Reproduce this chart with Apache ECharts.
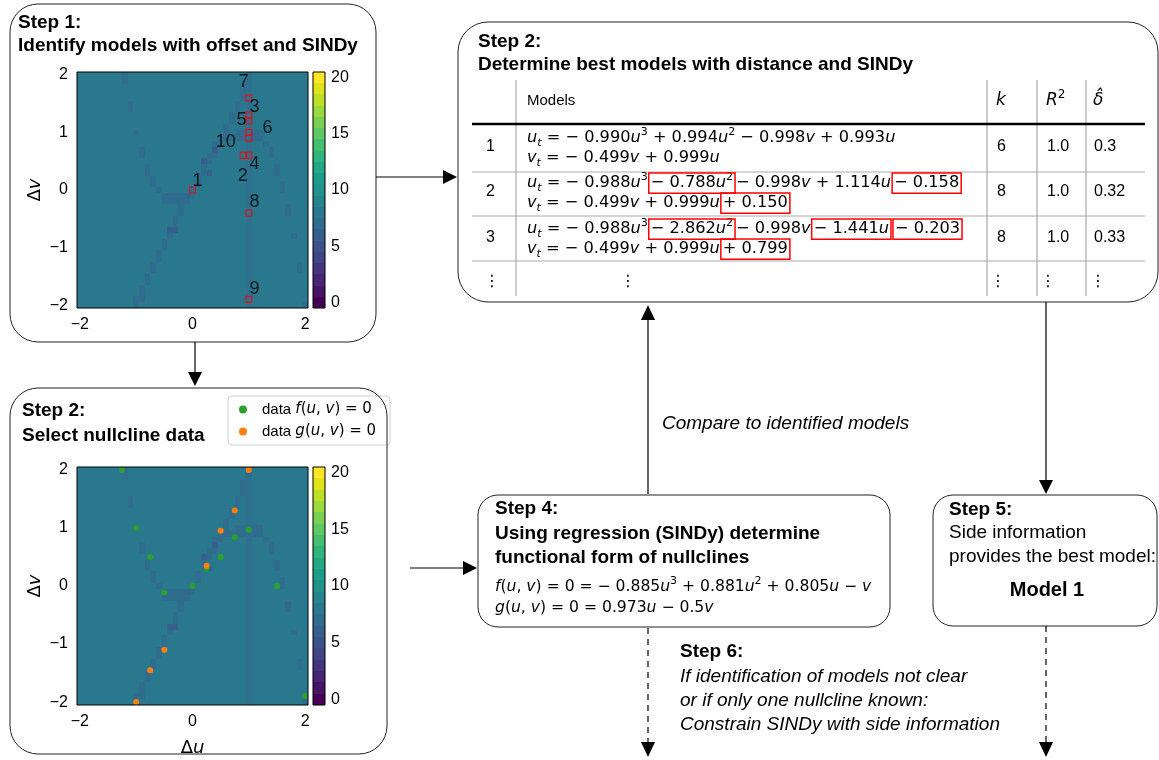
<!DOCTYPE html>
<html>
<head>
<meta charset="utf-8">
<title>SINDy nullcline workflow</title>
<script src="https://cdn.jsdelivr.net/npm/echarts@6/dist/echarts.min.js"></script>
<style>html,body{margin:0;padding:0;background:#fff;}</style>
</head>
<body>
<div id="main" style="width:1159px;height:760px;"></div>
<script>
// ---- data ----
var VIRIDIS = ['#440154','#471365','#482475','#463480','#414487','#3b528b','#355f8d','#2f6c8e','#2a788e','#25848e',
  '#21918c','#1e9c89','#22a884','#2fb47c','#44bf70','#5ec962','#7ad151','#9bd93c','#bddf26','#dfe318','#fde725'];
var COLORBAR_LEVELS = [0,1,2,3,4,5,6,7,8,9,10,11,12,13,14,15,16,17,18,19,20];
var COLORBAR_TICKS = [0,5,10,15,20];
var X_TICKS = [-2,0,2];
var Y_TICKS = [-2,-1,0,1,2];

var BG_LEVEL = 8;        // plain offset map
var STRIPE_U = 1.0;      // faint vertical band
var STRIPE_LEVEL = 7.3;

// [u, v, level]
var fLeftCells = [[-1.2,2.0,7],[-1.2,1.9,7],[-1.1,1.5,7],[-1.1,1.4,7],[-1.0,1.0,7],[-0.9,0.7,7],[-0.9,0.6,7],
  [-0.8,0.4,7],[-0.8,0.3,7],[-0.7,0.2,7],[-0.7,0.1,7],[-0.6,0.0,7],
  [-0.5,-0.1,7],[-0.4,-0.1,7],[-0.3,-0.1,7],[-0.2,-0.1,7],[-0.1,-0.1,6.6],[0.0,-0.1,7],
  [-0.5,-0.2,7],[-0.4,-0.2,7],[-0.3,-0.2,7],[-0.2,-0.2,7]];
var fRightCells = [[0.7,0.9,7],[0.8,0.9,7],[0.9,0.9,7],[1.1,0.9,7],[1.2,0.9,7],[0.8,1.0,7],[0.9,1.0,7],[1.1,1.0,7],
  [1.2,1.0,7],[1.3,0.8,7],[1.4,0.7,7],[1.4,0.6,7],[1.5,0.4,7],[1.5,0.3,7],[1.6,0.1,7],[1.6,0.0,7],
  [1.7,-0.3,7],[1.7,-0.4,7],[1.8,-0.8,7],[1.9,-1.3,7],[1.9,-1.4,7],[2.0,-2.0,7]];
var gCells = [[-1.0,-2.0,7],[-1.0,-1.9,7],[-0.9,-1.9,7],[-0.9,-1.8,7],[-0.9,-1.7,7],[-0.8,-1.6,7],[-0.8,-1.5,7],
  [-0.7,-1.4,7],[-0.7,-1.3,7],[-0.6,-1.2,7],[-0.6,-1.1,7],[-0.5,-1.0,7],[-0.5,-0.9,7],[-0.4,-0.8,7],
  [-0.4,-0.7,6],[-0.3,-0.7,6],[-0.3,-0.6,7],[-0.3,-0.5,7],[-0.2,-0.4,7],[-0.2,-0.3,7],[-0.1,-0.2,7],
  [0.0,0.0,7],[0.1,0.1,7],[0.1,0.2,7],[0.2,0.3,7],[0.3,0.3,6],[0.2,0.4,7],[0.2,0.5,6],[0.3,0.5,7],
  [0.3,0.6,7],[0.4,0.6,7],[0.4,0.7,6],[0.4,0.8,7],[0.5,0.8,7],[0.5,0.9,7],[0.6,0.9,7],[0.6,1.0,7],
  [0.6,1.1,7],[0.7,1.2,7],[0.7,1.3,7],[0.8,1.4,7],[0.8,1.5,7],[0.9,1.6,7],[0.9,1.7,7],[0.9,1.8,7],
  [1.0,1.9,7],[1.0,2.0,7]];

var modelSquares = [[0,0],[0.9,0.6],[1.0,0.6],[1.0,1.6],[1.0,1.3],[1.0,1.2],[1.0,1.0],[1.0,0.9],[1.0,-0.4],[1.0,-1.9]];
var modelLabels = [[0.09,0.16,'1'],[0.89,0.24,'2'],[1.10,1.45,'3'],[1.10,0.45,'4'],[0.87,1.22,'5'],
  [1.33,1.07,'6'],[0.91,1.88,'7'],[1.10,-0.21,'8'],[1.10,-1.72,'9'],[0.59,0.83,'10']];

var fData = [[-1.25,2.0],[-1.0,1.0],[-0.75,0.5],[-0.5,-0.11],[0,0],[0.25,0.3],[0.5,0.5],[0.75,0.84],[1.0,0.97],[1.5,0.0],[2.0,-1.9]];
var gData = [[-1.0,-2.0],[-0.75,-1.45],[-0.5,-1.1],[0.25,0.35],[0.5,0.95],[0.75,1.3],[1.0,2.0]];

var tableRowIds = ['1','2','3'];
var tableK = ['6','8','8'];
var tableR2 = ['1.0','1.0','1.0'];
var tableDelta = ['0.3','0.32','0.33'];
var tableEqs = [
  ['u_t = − 0.990u^3 + 0.994u^2 − 0.998v + 0.993u', 'v_t = − 0.499v + 0.999u'],
  ['u_t = − 0.988u^3[− 0.788u^2]− 0.998v + 1.114u[− 0.158]', 'v_t = − 0.499v + 0.999u[+ 0.150]'],
  ['u_t = − 0.988u^3[− 2.862u^2]− 0.998v[− 1.441u][− 0.203]', 'v_t = − 0.499v + 0.999u[+ 0.799]']
];
var step4Eqs = ['f(u, v) = 0 = − 0.885u^3 + 0.881u^2 + 0.805u − v', 'g(u, v) = 0 = 0.973u − 0.5v'];

// ---- build the offset map ----
var cellMap = {};
for (var i = -20; i <= 20; i++) {
  for (var j = -20; j <= 20; j++) cellMap[i + ',' + j] = BG_LEVEL;
}
for (var j = -20; j <= 20; j++) cellMap[Math.round(STRIPE_U * 10) + ',' + j] = STRIPE_LEVEL;
fLeftCells.concat(fRightCells, gCells).forEach(function (c) {
  cellMap[Math.round(c[0] * 10) + ',' + Math.round(c[1] * 10)] = c[2];
});
var mapData = [];
Object.keys(cellMap).forEach(function (k) {
  var p = k.split(',');
  mapData.push([p[0] / 10, p[1] / 10, cellMap[k]]);
});
var barData = COLORBAR_LEVELS.map(function (l) { return [0.5, l, l]; });

var SANS = '"Liberation Sans", Arial, sans-serif';
var MATH = '"DejaVu Sans", sans-serif';
var P1 = {left: 77, top: 72, width: 231, height: 236};
var P2 = {left: 77, top: 467, width: 231, height: 238};
var CB1 = {left: 313, top: 72, width: 12, height: 236};
var CB2 = {left: 313, top: 467, width: 12, height: 238};

function minusFmt(v) { return (v < 0 ? '−' : '') + Math.abs(v); }

function cellItem(params, api) {
  var u = api.value(0), v = api.value(1);
  var a = api.coord([u - 0.05, v + 0.05]);
  var b = api.coord([u + 0.05, v - 0.05]);
  var x0 = Math.round(a[0]), y0 = Math.round(a[1]), x1 = Math.round(b[0]), y1 = Math.round(b[1]);
  return {type: 'rect', shape: {x: x0, y: y0, width: x1 - x0, height: y1 - y0},
    style: {fill: api.visual('color')}};
}
function barItem(params, api) {
  var l = api.value(1);
  var a = api.coord([0, l + 0.5]);
  var b = api.coord([1, l - 0.5]);
  var y0 = Math.round(a[1]), y1 = Math.round(b[1]);
  return {type: 'rect', shape: {x: a[0], y: y0, width: b[0] - a[0], height: y1 - y0},
    style: {fill: api.visual('color')}};
}

function mapAxes(gi, showXName) {
  var lab = {color: '#000', fontSize: 16, fontFamily: SANS, formatter: minusFmt};
  var tick = {show: true, length: 4, lineStyle: {color: '#000'}};
  var nameStyle = {fontSize: 18, color: '#000', rich: {
    n: {fontSize: 18, fontFamily: MATH}, i: {fontSize: 18, fontFamily: MATH, fontStyle: 'italic'}}};
  var x = {gridIndex: gi, type: 'value', min: -2.05, max: 2.05, splitLine: {show: false}, axisLine: {show: false},
    axisTick: Object.assign({customValues: X_TICKS}, tick),
    axisLabel: Object.assign({customValues: X_TICKS, margin: 9}, lab)};
  if (showXName) {
    x.name = '{n|Δ}{i|u}'; x.nameLocation = 'middle'; x.nameGap = 34; x.nameTextStyle = nameStyle;
  }
  var y = {gridIndex: gi, type: 'value', min: -2.05, max: 2.05, splitLine: {show: false}, axisLine: {show: false},
    axisTick: Object.assign({customValues: Y_TICKS}, tick),
    axisLabel: Object.assign({customValues: Y_TICKS, margin: 9}, lab),
    name: '{n|Δ}{i|v}', nameLocation: 'middle', nameGap: 33, nameRotate: 90, nameTextStyle: nameStyle};
  return [x, y];
}
function barAxes(gi) {
  return [
    {gridIndex: gi, type: 'value', min: 0, max: 1, show: false},
    {gridIndex: gi, type: 'value', position: 'right', min: -0.5, max: 20.5, splitLine: {show: false},
      axisLine: {show: false}, axisTick: {show: true, customValues: COLORBAR_TICKS, length: 4, lineStyle: {color: '#000'}},
      axisLabel: {customValues: COLORBAR_TICKS, margin: 6, color: '#000', fontSize: 16, fontFamily: SANS}}
  ];
}
var a1 = mapAxes(0, false), b1 = barAxes(1), a2 = mapAxes(2, true), b2 = barAxes(3);

// ---- graphic helpers ----
var mctx = document.createElement('canvas').getContext('2d');
function text(x, y, str, font, align) {
  return {type: 'text', x: x, y: y, z: 50, style: {text: str, font: font, fill: '#000',
    align: align || 'left', verticalAlign: 'middle', textAlign: align || 'left', textVerticalAlign: 'middle'}};
}
function mathFont(size, it) { return (it ? 'italic ' : '') + size + 'px ' + MATH; }
// tiny markup: ^x superscript, _x subscript, letters italic, [..] red box
function eq(str, x0, y, size) {
  var segs = [], box = 0, nb = 0;
  for (var i = 0; i < str.length; i++) {
    var c = str[i], kind = 'n';
    if (c === '[') { box = ++nb; segs.push({gap: true}); continue; }
    if (c === ']') { box = 0; segs.push({gap: true}); continue; }
    if (c === '^') { c = str[++i]; kind = 'sup'; }
    else if (c === '_') { c = str[++i]; kind = 'sub'; }
    var it = /[a-zA-Z]/.test(c);
    var last = segs[segs.length - 1];
    if (last && !last.gap && last.kind === kind && last.it === it && last.box === box) last.t += c;
    else segs.push({t: c, kind: kind, it: it, box: box});
  }
  var els = [], boxes = {}, x = x0;
  segs.forEach(function (s) {
    if (s.gap) { x += 3; return; }
    var sz = s.kind === 'n' ? size : Math.round(size * 0.7);
    var font = mathFont(sz, s.it);
    mctx.font = font;
    var w = mctx.measureText(s.t).width;
    var dy = s.kind === 'sup' ? -size * 0.36 : (s.kind === 'sub' ? size * 0.3 : 0);
    els.push(text(x, y + dy, s.t, font));
    if (s.box) { var b = boxes[s.box] || (boxes[s.box] = {x0: x, x1: x}); b.x1 = x + w; }
    x += w;
  });
  Object.keys(boxes).forEach(function (k) {
    var b = boxes[k];
    els.push({type: 'rect', z: 51, shape: {x: b.x0 - 2, y: y - size * 0.62, width: b.x1 - b.x0 + 4, height: size * 1.26},
      style: {fill: 'none', stroke: '#ff0000', lineWidth: 1.5}});
  });
  return els;
}
function rbox(x, y, w, h, r) {
  return {type: 'rect', z: 40, shape: {x: x, y: y, width: w, height: h, r: r},
    style: {fill: 'none', stroke: '#222', lineWidth: 1}};
}
function line(x1, y1, x2, y2, w, color, dash) {
  return {type: 'line', z: 40, shape: {x1: x1, y1: y1, x2: x2, y2: y2},
    style: {stroke: color || '#000', lineWidth: w || 1.2, lineDash: dash || null}};
}
function head(pts) { return {type: 'polygon', z: 41, shape: {points: pts}, style: {fill: '#000'}}; }
function frame(p) {
  return {type: 'rect', z: 60, shape: {x: p.left, y: p.top, width: p.width, height: p.height},
    style: {fill: 'none', stroke: '#000', lineWidth: 1}};
}

var BOLD = 'bold 19px ' + SANS;
var REG = '19px ' + SANS;
var ITAL = 'italic 19px ' + SANS;
var G = [];
// boxes
G.push(rbox(10, 4, 366, 338, 28), rbox(458, 22, 700, 280, 30), rbox(10, 388, 377, 366, 28),
  rbox(478, 495, 412, 132, 20), rbox(933, 495, 224, 131, 20));
G.push(frame(P1), frame(P2), frame(CB1), frame(CB2));
// titles
G.push(text(18, 23, 'Step 1:', BOLD), text(18, 46, 'Identify models with offset and SINDy', BOLD));
G.push(text(478, 42, 'Step 2:', BOLD), text(478, 65, 'Determine best models with distance and SINDy', BOLD));
G.push(text(22, 411, 'Step 2:', BOLD), text(22, 436, 'Select nullcline data', BOLD));
G.push(text(495, 509, 'Step 4:', BOLD), text(495, 534, 'Using regression (SINDy) determine', BOLD),
  text(495, 558, 'functional form of nullclines', BOLD));
G.push(text(949, 510, 'Step 5:', BOLD), text(949, 533, 'Side information', REG),
  text(949, 557, 'provides the best model:', REG), text(1047, 590, 'Model 1', 'bold 20px ' + SANS, 'center'));
G.push(text(680, 652, 'Step 6:', BOLD), text(680, 677, 'If identification of models not clear', ITAL),
  text(680, 701, 'or if only one nullcline known:', ITAL), text(680, 725, 'Constrain SINDy with side information', ITAL));
G.push(text(662, 424, 'Compare to identified models', ITAL));
step4Eqs.forEach(function (s, k) { G = G.concat(eq(s, 495, 587 + 21 * k, 15.6)); });

// table
var TL = 472, TR = 1145;
[516, 987, 1037, 1086].forEach(function (x) { G.push(line(x, 80, x, 296, 1, '#999')); });
G.push(line(TL, 124, TR, 124, 2.5, '#000'));
[172, 216, 261].forEach(function (y) { G.push(line(TL, y, TR, y, 1, '#aaa')); });
G.push(text(527, 101, 'Models', '15px ' + SANS));
G = G.concat(eq('k', 996, 101, 17), eq('R^2', 1046, 101, 17));
G.push(text(1093, 101, 'δ̂', 'italic 17px ' + MATH));
var rowY = [138, 183, 229];
tableEqs.forEach(function (pair, r) {
  var y0 = rowY[r], yc = y0 + 9;
  G = G.concat(eq(pair[0], 527, y0, 16.2), eq(pair[1], 527, y0 + 20, 16.2));
  G.push(text(486, yc, tableRowIds[r], '16px ' + SANS), text(997, yc, tableK[r], '16px ' + SANS),
    text(1047, yc, tableR2[r], '16px ' + SANS), text(1094, yc, tableDelta[r], '16px ' + SANS));
});
[492, 628, 998, 1048, 1098].forEach(function (x) { G.push(text(x, 282, '⋮', '16px ' + MATH, 'center')); });

// arrows
G.push(line(376, 177, 444, 177), head([[443, 170], [457, 177], [443, 184]]));
G.push(line(195, 342, 195, 373), head([[188, 372], [195, 386], [202, 372]]));
G.push(line(410, 568, 464, 568), head([[463, 561], [477, 568], [463, 575]]));
G.push(line(648, 494, 648, 319), head([[641, 320], [648, 305], [655, 320]]));
G.push(line(1046, 302, 1046, 481), head([[1039, 480], [1046, 494], [1053, 480]]));
G.push(line(648, 628, 648, 743, 1.2, '#000', [6, 5]), head([[641, 742], [648, 757], [655, 742]]));
G.push(line(1046, 626, 1046, 743, 1.2, '#000', [6, 5]), head([[1039, 742], [1046, 757], [1053, 742]]));

var option = {
  animation: false,
  backgroundColor: '#fff',
  grid: [
    Object.assign({containLabel: false}, P1), Object.assign({containLabel: false}, CB1),
    Object.assign({containLabel: false}, P2), Object.assign({containLabel: false}, CB2)
  ],
  xAxis: [a1[0], b1[0], a2[0], b2[0]],
  yAxis: [a1[1], b1[1], a2[1], b2[1]],
  visualMap: {type: 'continuous', show: false, min: 0, max: 20, dimension: 2, seriesIndex: [0, 3, 4, 7],
    inRange: {color: VIRIDIS}},
  legend: {
    data: ['fdata', 'gdata'], left: 228, top: 396, orient: 'vertical', icon: 'circle',
    itemWidth: 8, itemHeight: 8, itemGap: 7, padding: [6, 14, 6, 11],
    borderColor: '#d0d0d0', borderWidth: 1, borderRadius: 4, backgroundColor: '#fff',
    textStyle: {fontSize: 15, fontFamily: SANS, color: '#000', padding: [0, 0, 0, 10],
      rich: {i: {fontSize: 15, fontFamily: MATH, fontStyle: 'italic'}, m: {fontSize: 15, fontFamily: MATH}}},
    formatter: function (n) {
      return 'data {i|' + (n === 'fdata' ? 'f' : 'g') + '}{m|(}{i|u}{m|, }{i|v}{m|) = 0}';
    }
  },
  series: [
    {type: 'custom', xAxisIndex: 0, yAxisIndex: 0, data: mapData, renderItem: cellItem, silent: true},
    {type: 'scatter', xAxisIndex: 0, yAxisIndex: 0, data: modelSquares, symbol: 'rect', symbolSize: [6, 6], z: 5,
      itemStyle: {color: 'rgba(0,0,0,0)', borderColor: '#ff0000', borderWidth: 1.2}},
    {type: 'scatter', xAxisIndex: 0, yAxisIndex: 0, data: modelLabels, symbolSize: 1, z: 6,
      itemStyle: {color: 'rgba(0,0,0,0)'},
      label: {show: true, position: 'inside', color: '#000', fontSize: 18, fontFamily: SANS,
        formatter: function (p) { return p.data[2]; }}},
    {type: 'custom', xAxisIndex: 1, yAxisIndex: 1, data: barData, renderItem: barItem, silent: true},
    {type: 'custom', xAxisIndex: 2, yAxisIndex: 2, data: mapData, renderItem: cellItem, silent: true},
    {type: 'scatter', name: 'fdata', xAxisIndex: 2, yAxisIndex: 2, data: fData, symbolSize: 6, z: 5,
      itemStyle: {color: '#2ca02c', opacity: 1}},
    {type: 'scatter', name: 'gdata', xAxisIndex: 2, yAxisIndex: 2, data: gData, symbolSize: 6, z: 6,
      itemStyle: {color: '#ff7f0e', opacity: 1}},
    {type: 'custom', xAxisIndex: 3, yAxisIndex: 3, data: barData, renderItem: barItem, silent: true}
  ],
  graphic: {elements: G}
};

var chart = echarts.init(document.getElementById('main'));
chart.setOption(option);
</script>
</body>
</html>
